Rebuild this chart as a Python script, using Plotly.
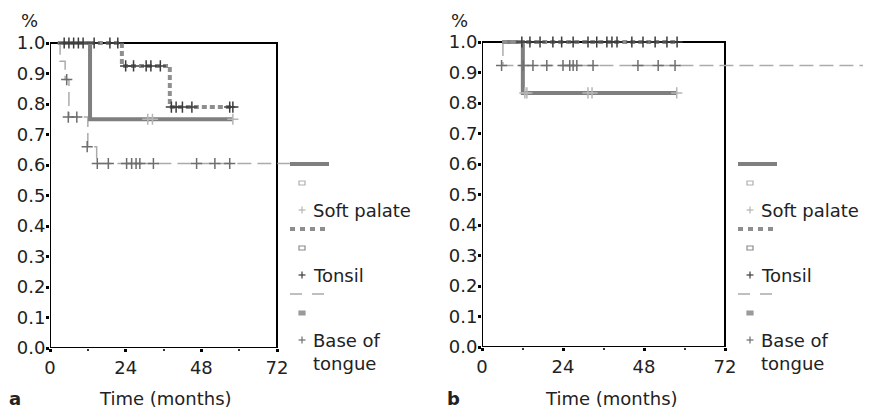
import plotly.graph_objects as go

# The page body adds an 8px margin; lay out in screen pixels and shift by it.
OFF = 8
W, H = 871 - OFF, 408 - OFF

# ---------------- data ----------------
series_names = ["Soft palate", "Tonsil", "Base of<br>tongue"]

# Panel a : Kaplan-Meier steps (time in months, survival fraction)
a_soft_t = [2.5, 12.7, 58]
a_soft_s = [1.0, 0.75, 0.75]
a_soft_cens_t = [31, 32.5, 58]
a_soft_cens_s = [0.75, 0.75, 0.75]

a_tons_t = [2.5, 22.8, 38, 58]
a_tons_s = [1.0, 0.925, 0.79, 0.79]
a_tons_cens_t = [4.5, 6, 7.5, 9, 10.5, 14, 19, 21.5,
                 24, 26.5, 30.5, 32, 35,
                 38.5, 40, 42, 45, 57, 58]
a_tons_cens_s = [1.0] * 8 + [0.925] * 5 + [0.79] * 6

a_base_t = [2.5, 3.2, 4.8, 6, 12, 14.8, 200]
a_base_s = [1.0, 0.94, 0.88, 0.757, 0.66, 0.605, 0.605]
a_base_cens_t = [5.3, 5.8, 8.5, 11.8, 15, 18.5, 24.3, 25.9, 27.3, 28.5, 32.8, 46.5, 52.3, 57]
a_base_cens_s = [0.88, 0.757, 0.757, 0.66] + [0.605] * 10

# Panel b
b_soft_t = [6, 12.1, 57.7]
b_soft_s = [1.0, 0.833, 0.833]
b_soft_cens_t = [12.7, 13.3, 31.4, 32.6, 57.7]
b_soft_cens_s = [0.833] * 5

b_tons_t = [6, 57.8]
b_tons_s = [1.0, 1.0]
b_tons_cens_t = [11.8, 14.2, 17.2, 21, 23.6, 27, 31.4, 34, 37, 38.5, 40, 44.4,
                 47.7, 51.3, 54.8, 57.8]
b_tons_cens_s = [1.0] * 16

b_base_t = [6.2, 6.2, 200]
b_base_s = [1.0, 0.923, 0.923]
b_base_cens_t = [5.8, 12.2, 15.1, 19.2, 24, 26, 27, 28.1, 32.9, 46.2, 52.2, 57.2]
b_base_cens_s = [0.923] * 12

x_ticks = [0, 24, 48, 72]
x_minor = [12, 36, 60]
y_ticks = [round(i * 0.1, 1) for i in range(11)]
y_ticktext = [f"{v:.1f}" for v in y_ticks]

# ---------------- styles ----------------
FONT = "DejaVu Sans"
TXT = "#222222"
C_SOFT = "#7f7f7f"
C_TONS = "#8e8e8e"
C_BASE = "#ababab"
CM_SOFT = "#b5b5b5"
CM_TONS = "#3c3c3c"
CM_BASE = "#6e6e6e"

fig = go.Figure()

def px_x(p):
    return (p - OFF) / W

def px_y(p):
    return 1 - (p - OFF) / H

# panel geometry (screen pixels)
panels = {
    "a": dict(x0=50, x72=277, xend=290, y0=348, y1=43, xa="x", ya="y"),
    "b": dict(x0=482, x72=725, xend=871, y0=347, y1=42, xa="x2", ya="y2"),
}

def add_panel(key, soft, tons, base):
    p = panels[key]
    xa, ya = p["xa"], p["ya"]
    (st, ss, sct, scs) = soft
    (tt, ts, tct, tcs) = tons
    (bt, bs, bct, bcs) = base
    fig.add_trace(go.Scatter(x=bt, y=bs, mode="lines", line=dict(shape="hv", color=C_BASE, width=1.5, dash="14px,6px"),
                             xaxis=xa, yaxis=ya, showlegend=False, hoverinfo="skip"))
    fig.add_trace(go.Scatter(x=st, y=ss, mode="lines", line=dict(shape="hv", color=C_SOFT, width=4),
                             xaxis=xa, yaxis=ya, showlegend=False, hoverinfo="skip"))
    fig.add_trace(go.Scatter(x=tt, y=ts, mode="lines", line=dict(shape="hv", color=C_TONS, width=4, dash="5px,3px"),
                             xaxis=xa, yaxis=ya, showlegend=False, hoverinfo="skip"))
    for cx, cy, col in [(bct, bcs, CM_BASE), (sct, scs, CM_SOFT), (tct, tcs, CM_TONS)]:
        fig.add_trace(go.Scatter(x=cx, y=cy, mode="markers",
                                 marker=dict(symbol="cross-thin", size=8, line=dict(color=col, width=1.5)),
                                 xaxis=xa, yaxis=ya, showlegend=False, hoverinfo="skip", cliponaxis=False))
    fig.add_shape(type="rect", xref=xa, yref=ya, x0=0, x1=72, y0=0, y1=1,
                  line=dict(color="black", width=2), layer="below")

add_panel("a",
          (a_soft_t, a_soft_s, a_soft_cens_t, a_soft_cens_s),
          (a_tons_t, a_tons_s, a_tons_cens_t, a_tons_cens_s),
          (a_base_t, a_base_s, a_base_cens_t, a_base_cens_s))
add_panel("b",
          (b_soft_t, b_soft_s, b_soft_cens_t, b_soft_cens_s),
          (b_tons_t, b_tons_s, b_tons_cens_t, b_tons_cens_s),
          (b_base_t, b_base_s, b_base_cens_t, b_base_cens_s))

layout = dict(width=W, height=H, margin=dict(l=0, r=0, t=0, b=0, autoexpand=False),
              paper_bgcolor="white", plot_bgcolor="rgba(0,0,0,0)",
              font=dict(family=FONT, size=18, color=TXT))

YTOP = 1.05
for key, p in panels.items():
    scale = 72 / (p["x72"] - p["x0"])
    xr = [0, (p["xend"] - p["x0"]) * scale]
    pxu = p["y0"] - p["y1"]
    ytop_px = p["y1"] - (YTOP - 1) * pxu
    xname = "xaxis" if key == "a" else "xaxis2"
    yname = "yaxis" if key == "a" else "yaxis2"
    layout[xname] = dict(domain=[px_x(p["x0"]), min(1.0, px_x(p["xend"]))], range=xr, automargin=False,
                         anchor=p["ya"], showgrid=False, zeroline=False, showline=False,
                         tickvals=x_ticks, ticktext=[str(v) for v in x_ticks],
                         ticks="outside", ticklen=3, tickwidth=3, tickcolor="black",
                         minor=dict(tickvals=x_minor, ticks="outside", ticklen=2, tickwidth=1.5, tickcolor="#333"),
                         tickfont=dict(family=FONT, size=18, color=TXT), fixedrange=True)
    layout[yname] = dict(domain=[px_y(p["y0"]), px_y(ytop_px)], range=[0, YTOP], automargin=False,
                         anchor=p["xa"], showgrid=False, zeroline=False, showline=False,
                         tickvals=y_ticks, ticktext=y_ticktext, ticklabelstandoff=-3,
                         ticks="outside", ticklen=3, tickwidth=3, tickcolor="black",
                         tickfont=dict(family=FONT, size=18, color=TXT), fixedrange=True)
fig.update_layout(**layout)

# ---------------- text annotations ----------------
def ann(text, x, y, xanchor="center", yanchor="middle", bold=False, size=18):
    fig.add_annotation(text=f"<b>{text}</b>" if bold else text, xref="paper", yref="paper",
                       x=px_x(x), y=px_y(y), xanchor=xanchor, yanchor=yanchor, showarrow=False,
                       font=dict(family=FONT, size=size, color=TXT))

ann("%", 29, 21)
ann("%", 460, 21)
ann("a", 15, 398, bold=True)
ann("b", 453, 398, bold=True)
ann("Time (months)", 165, 398)
ann("Time (months)", 611, 398)

# ---------------- legends ----------------
leg_styles = [
    dict(line=dict(color=C_SOFT, width=4), sq_fill="white", sq_line="#b0b0b0", plus=CM_SOFT),
    dict(line=dict(color=C_TONS, width=4, dash="5px,5px"), sq_fill="white", sq_line="#8a8a8a", plus=CM_TONS),
    dict(line=dict(color=C_BASE, width=1.5, dash="12px,10px"), sq_fill="#9a9a9a", sq_line="#9a9a9a", plus=CM_BASE),
]
for lx in [290, 738]:
    for i, (name, st) in enumerate(zip(series_names, leg_styles)):
        ly = 164 + i * 65
        fig.add_shape(type="line", xref="paper", yref="paper", x0=px_x(lx), x1=px_x(lx + 39),
                      y0=px_y(ly), y1=px_y(ly), line=st["line"])
        sx, sy = lx + 12, ly + 19
        fig.add_shape(type="rect", xref="paper", yref="paper", x0=px_x(sx - 3), x1=px_x(sx + 3),
                      y0=px_y(sy + 2), y1=px_y(sy - 2), line=dict(color=st["sq_line"], width=1.2),
                      fillcolor=st["sq_fill"])
        cy = ly + 46
        fig.add_shape(type="line", xref="paper", yref="paper", x0=px_x(sx - 3.5), x1=px_x(sx + 3.5),
                      y0=px_y(cy), y1=px_y(cy), line=dict(color=st["plus"], width=1.2))
        fig.add_shape(type="line", xref="paper", yref="paper", x0=px_x(sx), x1=px_x(sx),
                      y0=px_y(cy - 3.5), y1=px_y(cy + 3.5), line=dict(color=st["plus"], width=1.2))
        if i < 2:
            ann(name, lx + 21, cy, xanchor="left")
        else:
            fig.add_annotation(text=name, xref="paper", yref="paper", x=px_x(lx + 21), y=px_y(cy - 12),
                               xanchor="left", yanchor="top", align="left", showarrow=False,
                               font=dict(family=FONT, size=18, color=TXT))

fig.write_html("out.html")
